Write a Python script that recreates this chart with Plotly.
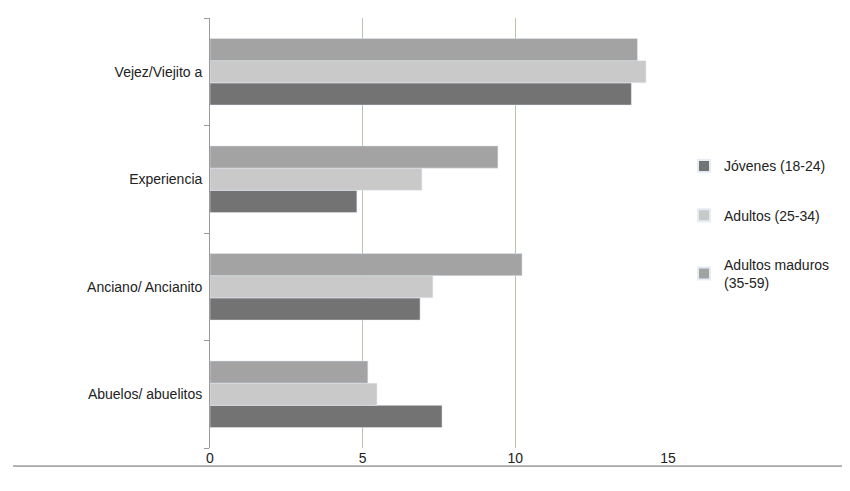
import plotly.graph_objects as go

categories = ["Vejez/Viejito a", "Experiencia", "Anciano/ Ancianito", "Abuelos/ abuelitos"]
maduros = [14.0, 9.43, 10.22, 5.17]
adultos = [14.28, 6.94, 7.3, 5.47]
jovenes = [13.8, 4.81, 6.88, 7.6]

fig = go.Figure()
fig.add_bar(y=categories, x=jovenes, orientation="h", name="Jóvenes (18-24)", marker_color="#737373", legendgroup="c")
fig.add_bar(y=categories, x=adultos, orientation="h", name="Adultos (25-34)", marker_color="#c9c9c9", legendgroup="b")
fig.add_bar(y=categories, x=maduros, orientation="h", name="Adultos maduros<br>(35-59)", marker_color="#a3a3a3", legendgroup="a")

fig.update_layout(
    width=850, height=491, barmode="group", bargap=0.38, bargroupgap=0,
    margin=dict(l=202, r=190, t=10, b=51, autoexpand=False),
    plot_bgcolor="white", paper_bgcolor="white",
    font=dict(family="Liberation Sans", size=14, color="#222"),
    legend=dict(x=1.035, y=0.52, yanchor="middle", traceorder="reversed+grouped",
                itemsizing="constant", tracegroupgap=28, font=dict(size=14)),
    xaxis=dict(range=[0, 15], tickvals=[0, 5, 10, 15], showgrid=True, gridcolor="#b8c4b0",
               zeroline=False, showline=False, ticks="", automargin=False),
    yaxis=dict(categoryorder="array", categoryarray=categories[::-1], showline=True,
               linecolor="#999", ticks="outside", tickson="boundaries", ticklen=5,
               tickcolor="#999", showgrid=False, automargin=False, ticksuffix=" "),
    shapes=[dict(type="line", xref="paper", yref="paper", x0=-0.43, x1=1.41, y0=-0.042, y1=-0.042,
                 line=dict(color="#666", width=1))],
)
fig.write_html("out.html")
